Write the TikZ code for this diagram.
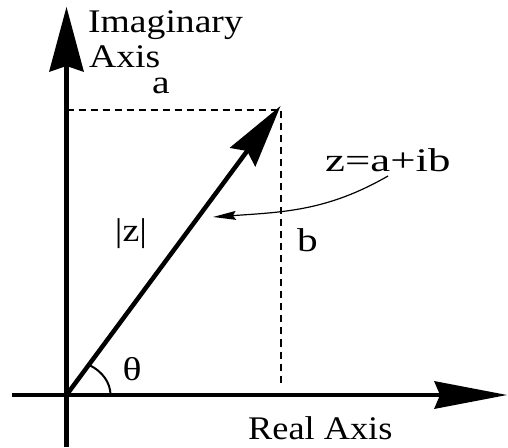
\documentclass[tikz,border=0pt]{standalone}
\usepackage{fontspec}
\setmainfont{Liberation Serif}
\usetikzlibrary{arrows.meta}
\newcommand{\wx}[2]{\scalebox{#1}[1]{#2}}
\begin{document}
\begin{tikzpicture}[x=1pt,y=1pt,
  lbl/.style={inner sep=0pt, font=\fontsize{33}{38}\selectfont},
  axisline/.style={line width=4.5pt},
  vecline/.style={line width=4.5pt,
    -{Stealth[length=64pt,width=32pt,inset=8pt,line width=0pt]}},
  dashline/.style={line width=2pt, dash pattern=on 7pt off 5pt},
  thinline/.style={line width=1.2pt}
]
\useasboundingbox (0,0) rectangle (508,447);
% coordinates
\coordinate (O) at (66.5,52);
\coordinate (ybot) at (66.5,0);
\coordinate (ytop) at (66.5,440);
\coordinate (xl) at (12,52);
\coordinate (xr) at (507,52);
\coordinate (P) at (280.5,341);
\coordinate (dl) at (66.5,337);
\coordinate (dc) at (281,337);
\coordinate (db) at (281,62);
% axes
\draw[axisline, -{Stealth[length=65pt,width=35pt,inset=6pt,line width=0pt]}] (ybot) -- (ytop);
\draw[axisline, -{Stealth[length=73pt,width=28pt,inset=6pt,line width=0pt]}] (xl) -- (xr);
% dashed projections
\draw[dashline] (dl) -- (dc) -- (db);
% vector
\draw[vecline] (O) -- (P);
% angle arc
\draw[line width=2pt] (110.5,52) arc[start angle=0,end angle=58,x radius=44,y radius=35];
% labels
\node[lbl, anchor=base west] (imag1) at (88,414) {\wx{1.14}{Imaginary}};
\node[lbl, anchor=base west] (imag2) at (89,379) {\wx{1.14}{Axis}};
\node[lbl, anchor=base] (la) at (161,353) {\wx{1.2}{a}};
\node[lbl, anchor=base west] (lz) at (325,275) {\wx{1.36}{z=a+ib}};
\node[lbl, anchor=base west] (lb) at (297,195) {\wx{1.25}{b}};
\node[lbl] (labs) at (131,213) {\wx{1.15}{|z|}};
\node[lbl] (lth) at (132,78) {\wx{1.2}{θ}};
\node[lbl, anchor=base west] (lreal) at (248,8) {\wx{1.1}{Real Axis}};
% curved pointer
\coordinate (cs) at (388,271);
\coordinate (ce) at (213,230);
\draw[thinline, -{Stealth[length=23pt,width=9pt,inset=3pt,line width=0pt]}] (cs) to[out=-150,in=4] (ce);
\end{tikzpicture}
\end{document}
